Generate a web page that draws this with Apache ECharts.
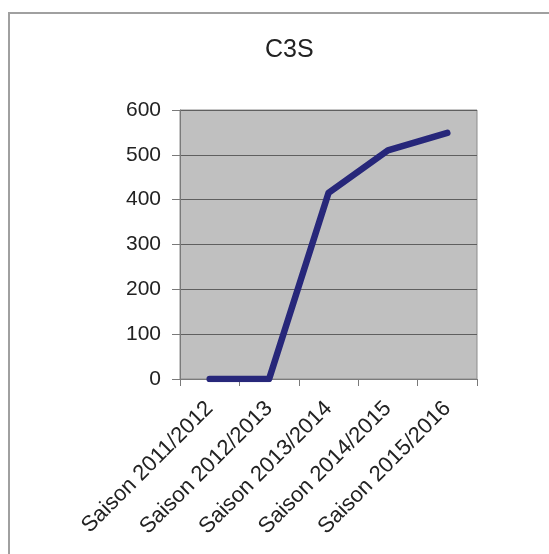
<!DOCTYPE html>
<html>
<head>
<meta charset="utf-8">
<script src="https://cdn.jsdelivr.net/npm/echarts@6/dist/echarts.min.js"></script>
<style>
html,body{margin:0;padding:0;background:#fff;}
#frame{position:absolute;left:8px;top:12px;width:560px;height:560px;border-left:2px solid #a0a0a0;border-top:2px solid #a0a0a0;box-sizing:border-box;pointer-events:none;z-index:2;}
#chart{position:absolute;left:0;top:0;width:549px;height:554px;}
</style>
</head>
<body>
<div id="chart"></div>
<div id="frame"></div>
<script>
const titleText = "C3S";
const categories = ["Saison 2011/2012", "Saison 2012/2013", "Saison 2013/2014", "Saison 2014/2015", "Saison 2015/2016"];
const values = [0, 0, 415, 510, 549];
const yTicks = { min: 0, max: 600, interval: 100 };

const chart = echarts.init(document.getElementById('chart'), null, { renderer: 'canvas' });
const font = "'Liberation Sans', Arial, sans-serif";
chart.setOption({
  animation: false,
  backgroundColor: '#ffffff',
  title: {
    text: titleText,
    left: 260,
    top: 33,
    textStyle: { fontFamily: font, fontSize: 25, fontWeight: 'normal', color: '#222' }
  },
  grid: {
    left: 180, top: 110, right: 72, bottom: 175,
    show: true, backgroundColor: '#c0c0c0', borderColor: '#8c8c8c', borderWidth: 1
  },
  xAxis: {
    type: 'category',
    data: categories,
    boundaryGap: true,
    axisLine: { lineStyle: { color: '#7a7a7a', width: 1 } },
    axisTick: { show: true, alignWithLabel: false, length: 7, lineStyle: { color: '#7a7a7a' } },
    axisLabel: { rotate: 45, margin: 26, fontFamily: font, fontSize: 22, color: '#222', interval: 0 },
    splitLine: { show: false }
  },
  yAxis: {
    type: 'value',
    min: yTicks.min, max: yTicks.max, interval: yTicks.interval,
    axisLine: { show: true, lineStyle: { color: '#7a7a7a', width: 1 } },
    axisTick: { show: true, length: 8, lineStyle: { color: '#7a7a7a' } },
    axisLabel: { margin: 19, fontFamily: font, fontSize: 21, color: '#222' },
    splitLine: { show: true, lineStyle: { color: '#5f5f5f', width: 1 } }
  },
  series: [{
    type: 'line',
    data: values,
    symbol: 'none',
    lineStyle: { color: '#27277a', width: 6.5, cap: 'round', join: 'round' },
    z: 5
  }]
});
</script>
</body>
</html>
